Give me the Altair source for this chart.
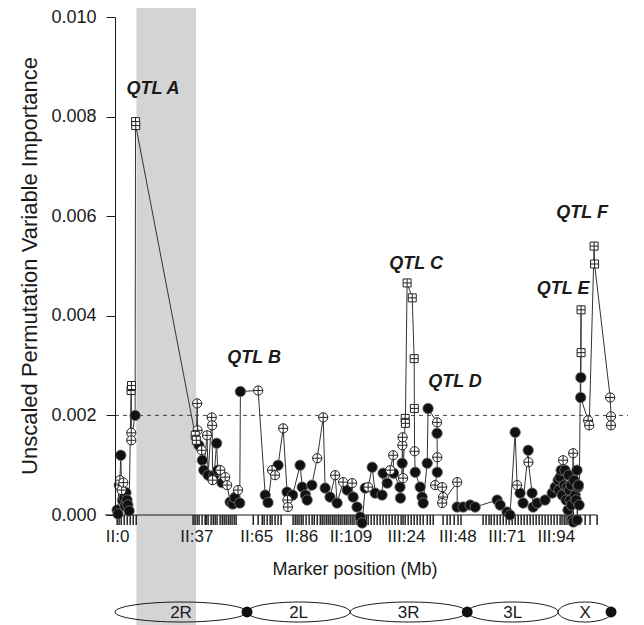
import altair as alt
import pandas as pd

# ---------------- data ----------------
# cumulative marker position in Mb (chromosome II, then III, then X)
pos = [0.0, 0.4, 0.8, 1.3, 1.7, 2.1, 2.5, 2.9, 3.3, 3.7, 4.1, 4.6, 5.0, 5.6,
       6.5, 6.7, 6.6, 6.6, 8.4, 8.6, 8.7,
       36.5, 37.0, 37.4, 37.6, 38.2, 39.5, 39.8, 40.5, 42.0, 42.5, 44.2, 44.4, 44.6,
       45.3, 46.5, 47.0, 48.2, 49.0, 50.5, 51.4, 52.8, 54.0, 55.0, 56.5, 57.3, 57.6,
       65.9, 69.2, 70.5, 72.4, 73.8, 75.2, 77.6, 79.4, 79.6, 79.8, 82.0, 85.5, 86.5,
       88.0, 88.8, 91.0, 93.5, 96.3,
       97.2, 99.5, 101.9, 102.8, 105.6, 107.5, 109.8, 110.3, 112.1, 113.6, 114.5,
       115.9, 117.3, 119.2, 120.6, 123.8, 124.3, 126.2, 127.6, 129.0, 129.2, 132.2,
       132.4, 133.2, 133.3, 133.4, 133.6, 134.6, 134.7, 135.5, 137.9, 138.8, 138.9,
       139.0, 139.3, 141.6, 142.5, 143.0, 144.9, 145.3, 149.5, 149.5, 149.6, 149.6,
       148.6, 151.9, 152.3, 151.9, 158.9, 158.9, 161.7, 165.0, 167.3, 177.6, 179.0,
       182.2, 183.6, 186.0, 186.9, 188.3, 189.7, 192.1, 192.2, 193.9, 194.4, 196.3,
       200.0, 203.3, 204.7, 206.1, 206.5, 207.0, 207.5, 208.0, 208.4, 209.0, 209.3,
       209.8, 210.3, 210.7, 211.0, 211.3, 211.7, 212.1, 212.3, 212.6, 213.1, 213.2,
       213.5, 214.0, 214.5, 214.9, 215.0, 215.4, 215.6, 215.9,
       216.8, 216.8, 216.7, 216.6, 220.1, 220.6, 222.9, 223.1, 230.4, 230.8, 230.8]
val = [0.00010, 0.00002, 0.00060, 0.00070, 0.00120, 0.00050, 0.00030, 0.00065, 0.00035,
       0.00018, 0.00045, 0.00030, 0.00020, 0.00008,
       0.00250, 0.00260, 0.00165, 0.00150, 0.00200, 0.00790, 0.00782,
       0.00160, 0.00150, 0.00224, 0.00170, 0.00140, 0.00130, 0.00110, 0.00090, 0.00160,
       0.00080, 0.00196, 0.00180, 0.00070, 0.00080, 0.00144, 0.00090, 0.00090, 0.00065,
       0.00076, 0.00060, 0.00026, 0.00022, 0.00035, 0.00050, 0.00024, 0.00248,
       0.00250, 0.00040, 0.00025, 0.00090, 0.00080, 0.00100, 0.00174, 0.00046, 0.00030,
       0.00016, 0.00040, 0.00100, 0.00056, 0.00040, 0.00030, 0.00060, 0.00114, 0.00196,
       0.00054, 0.00036, 0.00080, 0.00024, 0.00066, 0.00050, 0.00064, 0.00036, 0.00016,
       -0.00004, -0.00016, 0.00054, 0.00056, 0.00096, 0.00044, 0.00040, 0.00084, 0.00064,
       0.00090, 0.00120, 0.00084, 0.00056, 0.00034, 0.00104, 0.00140, 0.00156, 0.00074,
       0.00194, 0.00184, 0.00466, 0.00436, 0.00314, 0.00214, 0.00128, 0.00086, 0.00056,
       0.00036, 0.00024, 0.00104, 0.00214, 0.00186, 0.00164, 0.00116, 0.00086, 0.00060,
       0.00056, 0.00036, 0.00024, 0.00066, 0.00016, 0.00016, 0.00020, 0.00016, 0.00030,
       0.00020, 0.00006, 0.00000, 0.00166, 0.00060, 0.00044, 0.00024, 0.00130, 0.00106,
       0.00044, 0.00016, 0.00024, 0.00030, 0.00044, 0.00056, 0.00070, 0.00050, 0.00076,
       0.00090, 0.00040, 0.00110, 0.00060, 0.00090, 0.00030, 0.00056, 0.00010, 0.00080,
       0.00050, 0.00030, 0.00060, 0.00020, -0.00010, 0.00124, -0.00014, 0.00070, 0.00040,
       0.00030, 0.00090, -0.00010, 0.00056, 0.00060, 0.00020,
       0.00412, 0.00326, 0.00276, 0.00236, 0.00190, 0.00180, 0.00540, 0.00504, 0.00236,
       0.00198, 0.00180]
sym = ["f", "f", "c", "c", "f", "c", "f", "c", "f", "f", "f", "f", "f", "f",
       "s", "s", "c", "c", "f", "s", "s",
       "s", "s", "c", "c", "f", "c", "f", "f", "c", "f", "c", "c", "c",
       "f", "f", "f", "c", "f", "c", "c", "f", "f", "f", "c", "f", "f",
       "c", "f", "f", "c", "c", "f", "c", "f", "c", "c", "f", "f", "f",
       "f", "f", "f", "c", "c",
       "f", "f", "c", "f", "c", "f", "c", "f", "f", "f", "f",
       "f", "c", "f", "f", "f", "f", "f", "c", "c", "f", "f",
       "f", "f", "c", "c", "c", "s", "s", "s", "s", "s", "s",
       "c", "f", "f", "f", "f", "f", "f", "c", "f", "c", "f",
       "c", "c", "c", "c", "c", "f", "f", "f", "f", "f", "f",
       "f", "f", "f", "c", "f", "f", "f", "c", "f", "f", "f",
       "f", "f", "f", "f", "f", "f", "f", "f", "c", "f", "f",
       "f", "f", "f", "f", "f", "f", "f", "f", "f", "c", "f",
       "f", "f", "f", "f", "f", "f", "f", "f",
       "s", "s", "f", "f", "c", "c", "s", "s", "c", "c", "c"]

# rug of marker positions (Mb)
rug_pos = [0.0, 0.9, 1.9, 3.3, 4.7, 6.1, 7.5, 8.9,
           35.5, 36.4, 37.4, 38.3, 39.7, 41.1, 41.6, 42.5, 43.9, 44.9, 45.8, 46.7,
           48.1, 49.1, 50.0, 50.9, 51.9, 52.8, 53.7, 54.7, 55.6,
           63.6, 65.9, 67.8, 68.7, 70.1, 71.5, 72.4, 73.8, 75.2, 76.6,
           82.2, 83.2, 84.1, 85.0, 86.0, 86.9, 88.3, 89.7, 91.1, 92.1, 93.5, 94.9,
           95.8, 96.7, 97.7, 98.6, 99.5, 100.5, 101.4, 102.3, 103.3, 104.2, 105.1,
           106.1, 107.0, 107.9, 108.9, 109.8, 110.7, 111.7, 112.6, 113.6, 114.5,
           115.4, 116.4, 117.3, 118.7, 120.1, 121.5, 122.9, 124.3, 125.7, 127.1,
           128.5, 129.9, 131.3, 132.7, 133.6, 134.6, 136.0, 137.4, 138.8, 140.2,
           141.6, 143.0, 144.9, 146.3, 147.7,
           152.3, 154.2, 155.6, 157.5, 159.3, 160.7,
           171.0, 172.4, 173.8, 174.8, 176.2, 177.6, 179.0, 180.4, 181.8, 183.2,
           184.6, 186.0, 187.4, 188.8, 190.2, 191.6, 193.0, 194.4, 195.8, 197.2,
           198.6, 200.0, 201.4, 202.8, 204.2, 205.6, 207.0, 207.9, 208.9, 209.8,
           210.7, 211.7, 212.6, 213.6, 214.5, 216.4, 218.7, 221.0, 224.3]

tick_vals = [0, 37, 65, 86, 109, 135, 159, 182, 205]
tick_text = ["II:0", "II:37", "II:65", "II:86", "II:109", "III:24", "III:48", "III:71", "III:94"]

qtl_names = ["QTL A", "QTL B", "QTL C", "QTL D", "QTL E", "QTL F"]
qtl_x = [16.8, 64.0, 139.7, 157.9, 208.4, 217.3]
qtl_y = [0.00856, 0.00316, 0.00504, 0.00268, 0.00454, 0.00606]

arms = ["2R", "2L", "3R", "3L", "X"]
arm_start = [-1.0, 60.7, 108.9, 163.6, 206.1]
arm_end = [60.7, 108.9, 163.6, 206.1, 231.3]
centromeres = [60.7, 163.6, 230.8]

band_start, band_end = [9.0], [36.9]
threshold = [0.002]

# ---------------- layout ----------------
W, H = 520, 498
XMIN, XMAX = -1.0, 242.0
PX_PER_MB = W / (XMAX - XMIN)
FONT = "Liberation Sans"
INK = "#1a1a1a"
DIAG_Y = 595

xscale = alt.Scale(domain=[XMIN, XMAX], nice=False, zero=False)
yscale = alt.Scale(domain=[0, 0.010], nice=False, zero=False)

label_expr = " : ".join(
    f"datum.value == {v} ? '{t}'" for v, t in zip(tick_vals, tick_text)) + " : ''"
xaxis = alt.Axis(values=tick_vals, labelExpr=label_expr, domain=False, ticks=False,
                 grid=False, title=None, labelPadding=13, labelFontSize=17,
                 labelColor=INK, labelFont=FONT, labelFlush=False, labelOverlap=False,
                 zindex=2)
yaxis = alt.Axis(values=[0, 0.002, 0.004, 0.006, 0.008, 0.010], format=".3f",
                 grid=False, title=None, tickSize=9, tickColor=INK, domainColor=INK,
                 labelFontSize=18, labelColor=INK, labelFont=FONT, labelPadding=10,
                 zindex=2)


def X(field, **kw):
    return alt.X(field, scale=xscale, axis=xaxis, **kw)


def Y(field, **kw):
    return alt.Y(field, scale=yscale, axis=yaxis, **kw)


pts = pd.DataFrame({"pos": pos, "val": val, "sym": sym, "idx": range(len(pos))})
rug = pd.DataFrame({"pos": rug_pos})
qtl = pd.DataFrame({"name": qtl_names, "x": qtl_x, "y": qtl_y})
arm_w = [(e - s) * PX_PER_MB for s, e in zip(arm_start, arm_end)]
arm_paths = [f"M-1,0A1,{10.0 / (w / 2):.4f} 0 1,1 1,0A1,{10.0 / (w / 2):.4f} 0 1,1 -1,0Z"
             for w in arm_w]
armdf = pd.DataFrame({"arm": arms, "c": [(s + e) / 2 for s, e in zip(arm_start, arm_end)],
                      "sz": [w * w for w in arm_w]})
cen = pd.DataFrame({"pos": centromeres})

CIRC_PLUS = "M-1,0A1,1 0 1,1 1,0A1,1 0 1,1 -1,0ZM-1,0L1,0M0,-1L0,1"
SQ_PLUS = "M-1,-1L1,-1L1,1L-1,1ZM-1,0L1,0M0,-1L0,1"

band = alt.Chart(pd.DataFrame({"a": band_start, "b": band_end})).mark_rect(
    color="#d4d4d6").encode(x=X("a:Q"), x2="b:Q", y=alt.value(-9), y2=alt.value(620))

thr = alt.Chart(pd.DataFrame({"t": threshold})).mark_rule(
    color="#444", strokeDash=[4, 4], strokeWidth=1).encode(
    y=Y("t:Q"), x=alt.value(0), x2=alt.value(513))

line = alt.Chart(pts).mark_line(color="#333", strokeWidth=1).encode(
    x=X("pos:Q"), y=Y("val:Q"), order=alt.Order("idx:Q"))

rugs = alt.Chart(rug).mark_rule(color="#000", strokeWidth=1.3).encode(
    x=X("pos:Q"), y=alt.value(H), y2=alt.value(H + 10))

base_line = alt.Chart(pd.DataFrame({"a": [0]})).mark_rule(color=INK, strokeWidth=1).encode(
    x=alt.value(-10), x2=alt.value(482), y=alt.value(H))

p_f = alt.Chart(pts).transform_filter("datum.sym == 'f'").mark_point(
    shape="circle", size=110, fill="#111", stroke="#777", strokeWidth=0.8,
    opacity=1, fillOpacity=1).encode(x=X("pos:Q"), y=Y("val:Q"))
p_c = alt.Chart(pts).transform_filter("datum.sym == 'c'").mark_point(
    shape=CIRC_PLUS, size=85, fill="white", stroke="#222", strokeWidth=1,
    opacity=1, fillOpacity=1).encode(x=X("pos:Q"), y=Y("val:Q"))
p_s = alt.Chart(pts).transform_filter("datum.sym == 's'").mark_point(
    shape=SQ_PLUS, size=64, fill="white", stroke="#222", strokeWidth=1,
    opacity=1, fillOpacity=1).encode(x=X("pos:Q"), y=Y("val:Q"))

qtl_txt = alt.Chart(qtl).mark_text(font=FONT, fontSize=18, fontWeight="bold",
                                   fontStyle="italic", color=INK).encode(
    x=X("x:Q"), y=Y("y:Q"), text="name:N")

ellipses = alt.Chart(armdf).mark_point(filled=False, stroke=INK, strokeWidth=1,
                                       opacity=1).encode(
    x=X("c:Q"), y=alt.value(DIAG_Y),
    shape=alt.Shape("arm:N", scale=alt.Scale(domain=arms, range=arm_paths), legend=None),
    size=alt.Size("sz:Q", scale=None, legend=None))

dots = alt.Chart(cen).mark_circle(size=120, color="#111", opacity=1).encode(
    x=X("pos:Q"), y=alt.value(DIAG_Y))

arm_txt = alt.Chart(armdf).mark_text(font=FONT, fontSize=17, color=INK).encode(
    x=X("c:Q"), y=alt.value(DIAG_Y + 1), text="arm:N")

xtitle = alt.Chart(pd.DataFrame({"t": ["Marker position (Mb)"]})).mark_text(
    font=FONT, fontSize=18, color=INK).encode(text="t:N", x=alt.value(240), y=alt.value(553))

ytitle = alt.Chart(pd.DataFrame({"t": ["Unscaled Permutation Variable Importance"]})).mark_text(
    font=FONT, fontSize=22, color=INK, angle=270).encode(
    text="t:N", x=alt.value(-85), y=alt.value(249))

chart = alt.layer(band, thr, line, rugs, base_line, p_f, p_c, p_s, qtl_txt,
                  ellipses, dots, arm_txt, xtitle, ytitle).properties(
    width=W, height=H,
    autosize=alt.AutoSizeParams(type="none"),
    padding={"left": 107, "top": 9, "right": 1, "bottom": 110},
    background="white",
).configure_view(stroke=None)

chart.save("out.html", embed_options={"renderer": "svg", "actions": False})
